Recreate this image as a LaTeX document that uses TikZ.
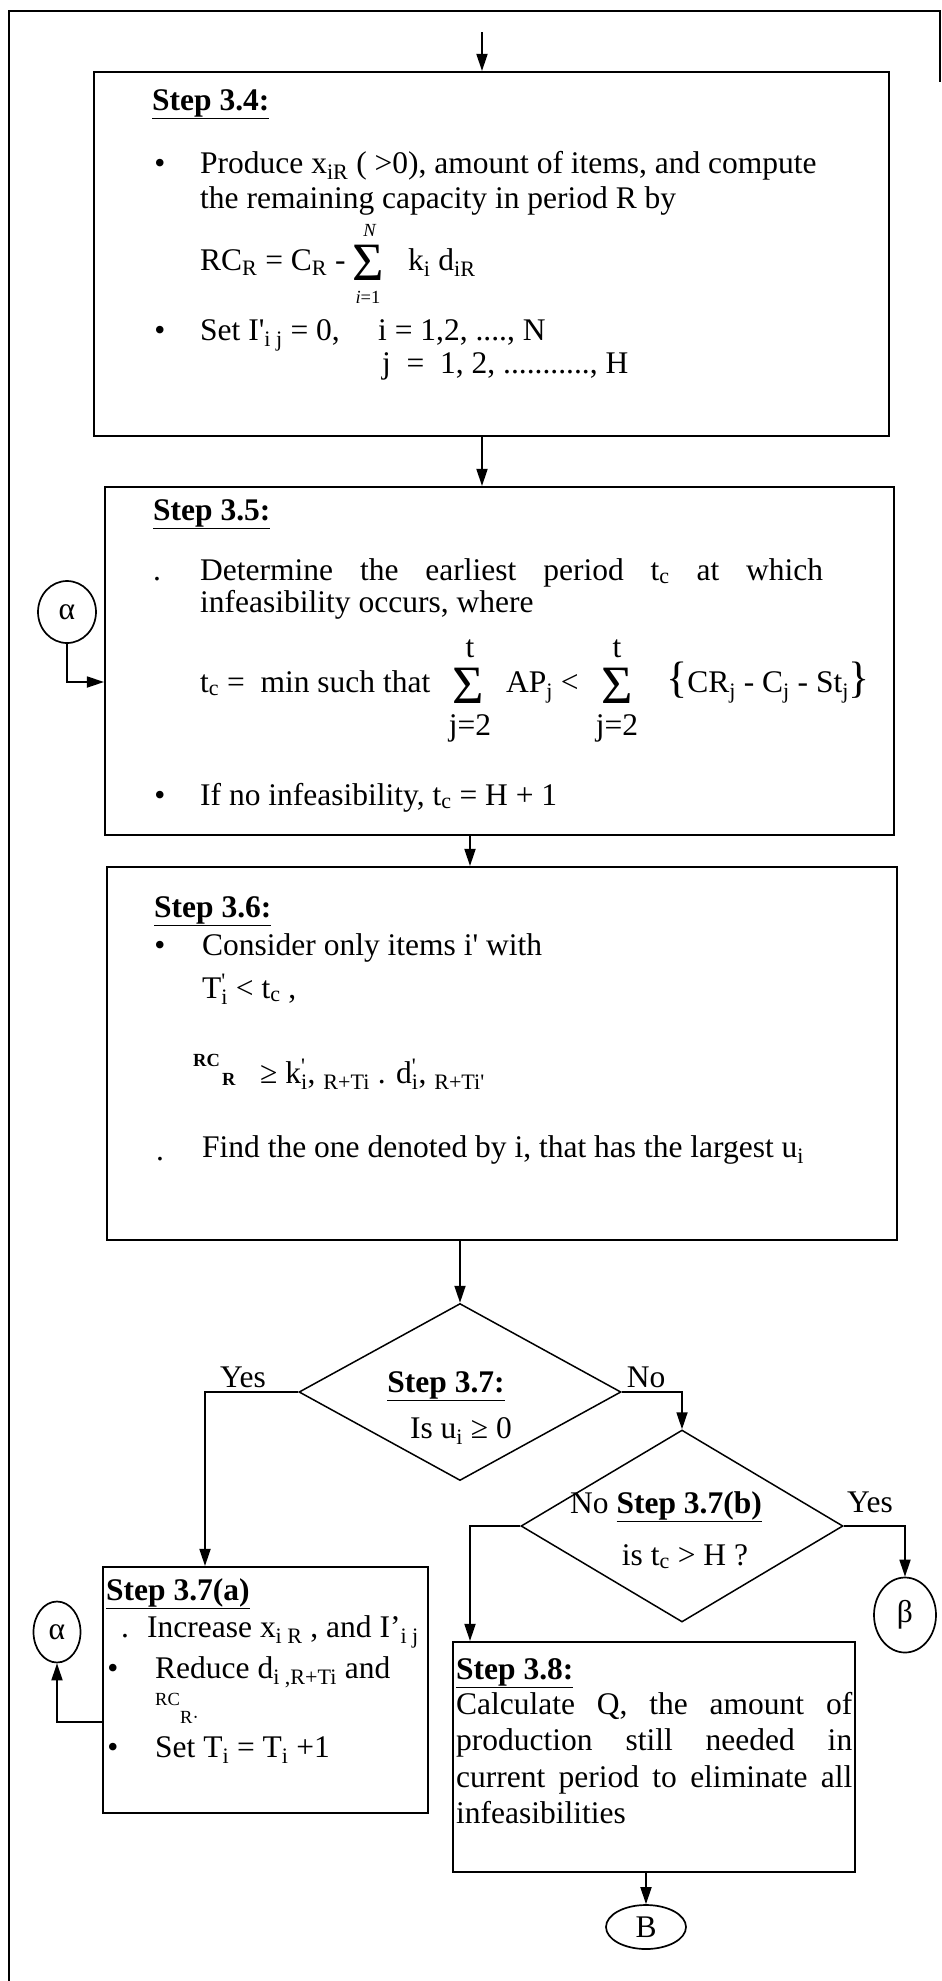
\documentclass[tikz,border=0pt]{standalone}
\usepackage{fontspec}
\setmainfont{Liberation Serif}
\usetikzlibrary{arrows.meta,shapes.geometric}
\newcommand{\tsb}[1]{\textsubscript{#1}}
\newcommand{\tsp}[1]{\textsuperscript{#1}}
\newcommand{\stp}[1]{\underline{\textbf{#1}}}
\newcommand{\sq}{\textquotesingle}
\tikzset{
  box/.style={draw, line width=2.1pt, inner sep=0pt, rectangle},
  dia/.style={draw, line width=1.5pt, diamond, inner sep=0pt},
  conn/.style={draw, ellipse, line width=1.7pt, inner sep=0pt, font=\fontsize{31.5}{36}\selectfont},
  arr/.style={line width=1.8pt, -{Triangle[length=17pt,width=11pt]}},
  ln/.style={line width=1.8pt},
  txt/.style={anchor=base west, inner sep=0pt, font=\fontsize{31.5}{36}\selectfont},
  ctxt/.style={txt, anchor=base},
  sml/.style={anchor=base west, inner sep=0pt, font=\fontsize{18.5}{21}\selectfont},
  sig/.style={anchor=base, inner sep=0pt, text height=36pt, text depth=0pt, font=\fontsize{54}{54}\selectfont},
}
\begin{document}
\begin{tikzpicture}[x=1pt,y=-1pt]
\useasboundingbox (0,0) rectangle (942,1981);
% outer frame
\coordinate (fbl) at (9,1981);
\coordinate (ftl) at (9,11);
\coordinate (ftr) at (940,11);
\coordinate (fbr) at (940,82);
\draw[ln] (fbl) -- (ftl) -- (ftr) -- (fbr);

% boxes
\node[box, minimum width=795pt, minimum height=364pt] (s34) at (491.5,254) {};
\node[box, minimum width=789pt, minimum height=348pt] (s35) at (499.5,661) {};
\node[box, minimum width=790pt, minimum height=373pt] (s36) at (502,1053.5) {};
\node[box, minimum width=325pt, minimum height=246pt] (s37a) at (265.5,1690) {};
\node[box, minimum width=402pt, minimum height=230pt] (s38) at (654,1757) {};
\node[dia, minimum width=322pt, minimum height=177pt] (d37) at (460,1392) {};
\node[dia, minimum width=322pt, minimum height=192pt] (d37b) at (682,1526) {};
\node[conn, minimum width=58pt, minimum height=62pt] (al1) at (67,612) {α};
\node[conn, minimum width=47pt, minimum height=61pt] (al2) at (57,1632) {α};
\node[conn, minimum width=62pt, minimum height=75pt] (be) at (905,1615) {β};
\node[conn, minimum width=80pt, minimum height=44pt] (bb) at (646,1927) {B};

% connectors
\coordinate (in) at (482,32);
\draw[arr] (in) -- (in |- s34.north);
\draw[arr] (s34.south -| in) -- (s35.north -| in);
\coordinate (c36) at (470,0);
\draw[arr] (s35.south -| c36) -- (s36.north -| c36);
\draw[arr] (s36.south -| d37.north) -- (d37.north);
\coordinate (yx) at (205,1392);
\draw[arr] (d37.west) -- (yx) -- (yx |- s37a.north);
\draw[arr] (d37.east) -| (d37b.north);
\coordinate (nx) at (470,1526);
\draw[arr] (d37b.west) -- (nx) -- (nx |- s38.north);
\draw[arr] (d37b.east) -| (be.north);
\draw[arr] (s38.south -| bb.north) -- (bb.north);
\draw[arr] ([yshift=-32pt]s37a.west) -| (al2.south);
\draw[arr] (al1.south) |- ([yshift=-21pt]s35.west);

% Step 3.4
\node[txt] (h34) at (152,110) {\stp{Step 3.4:}};
\node[ctxt] (b341) at (160,173) {•};
\node[txt] (t341) at (200,173) {Produce x\tsb{iR} ( >0), amount of items, and compute};
\node[txt] (t342) at (200,208) {the remaining capacity in period R by};
\node[txt] (t343) at (200,270) {RC\tsb{R} = C\tsb{R} -};
\node[sig] (s341) at (368,280) {Σ};
\node[sml, anchor=base] (s341a) at (370,236) {\textit{N}};
\node[sml, anchor=base] (s341b) at (368,303) {\textit{i}=1};
\node[txt] (t344) at (408,270) {k\tsb{i} d\tsb{iR}};
\node[ctxt] (b342) at (160,340) {•};
\node[txt] (t345) at (200,340) {Set I\sq\tsb{i j} = 0,};
\node[txt] (t346) at (378,340) {i = 1,2, ...., N};
\node[txt] (t347) at (382,373) {j \ = \ 1, 2, ..........., H};

% Step 3.5
\node[txt] (h35) at (153,520) {\stp{Step 3.5:}};
\node[ctxt] (b351) at (157,580) {.};
\node[txt] (t351) at (200,580) {\makebox[623pt][s]{Determine the earliest period t\tsb{c} at which}};
\node[txt] (t352) at (200,612) {infeasibility occurs, where};
\node[txt] (t353) at (200,692) {t\tsb{c} = \ min such that};
\node[sig] (s351) at (468,703) {Σ};
\node[ctxt] (s351a) at (470,657) {t};
\node[ctxt] (s351b) at (470,735) {j=2};
\node[txt] (t354) at (506,692) {AP\tsb{j} <};
\node[sig] (s352) at (617,703) {Σ};
\node[ctxt] (s352a) at (617,657) {t};
\node[ctxt] (s352b) at (617,735) {j=2};
\node[txt] (t355) at (666,692) {{\fontsize{44}{44}\selectfont\{}CR\tsb{j} - C\tsb{j} - St\tsb{j}{\fontsize{44}{44}\selectfont\}}};
\node[ctxt] (b352) at (160,805) {•};
\node[txt] (t356) at (200,805) {If no infeasibility, t\tsb{c} = H + 1};

% Step 3.6
\node[txt] (h36) at (154,917) {\stp{Step 3.6:}};
\node[ctxt] (b361) at (160,955) {•};
\node[txt] (t361) at (202,955) {Consider only items i\sq{} with};
\node[txt] (t362) at (202,998) {T\rlap{\tsp{\sq}}\tsb{i} < t\tsb{c} ,};
\node[sml] (t363) at (193,1066) {\textbf{RC}};
\node[sml] (t364) at (222,1085) {\textbf{R}};
\node[txt] (t365) at (260,1083) {≥ k\rlap{\tsp{\sq}}\tsb{i}, \tsb{R+Ti} . d\rlap{\tsp{\sq}}\tsb{i}, \tsb{R+Ti\sq}};
\node[ctxt] (b362) at (160,1160) {.};
\node[txt] (t366) at (202,1157) {Find the one denoted by i, that has the largest u\tsb{i}};

% Step 3.7
\node[ctxt] (h37) at (446,1392) {\stp{Step 3.7:}};
\node[ctxt] (t371) at (461,1438) {Is u\tsb{i} ≥ 0};
\node[ctxt] (ly1) at (243,1387) {Yes};
\node[ctxt] (ln1) at (646,1387) {No};

% Step 3.7(b)
\node[ctxt] (h37b) at (666,1513) {No \stp{Step 3.7(b)}};
\node[ctxt] (t37b) at (685,1565) {is t\tsb{c} > H ?};
\node[ctxt] (ly2) at (870,1512) {Yes};

% Step 3.7(a)
\node[txt] (h37a) at (106,1600) {\stp{Step 3.7(a)}};
\node[ctxt] (b371) at (125,1637) {.};
\node[txt] (t371a) at (147,1637) {Increase x\tsb{i R} , and I’\tsb{i j}};
\node[ctxt] (b372) at (113,1678) {•};
\node[txt] (t372a) at (155,1678) {Reduce d\tsb{i ,R+Ti} and};
\node[sml] (t373a) at (155,1705) {RC};
\node[sml] (t374a) at (180,1723) {R·};
\node[ctxt] (b373) at (113,1757) {•};
\node[txt] (t375a) at (155,1757) {Set T\tsb{i} = T\tsb{i} +1};

% Step 3.8
\node[txt] (h38) at (456,1679) {\stp{Step 3.8:}};
\node[txt] (t381) at (456,1714) {\makebox[396pt][s]{Calculate Q, the amount of}};
\node[txt] (t382) at (456,1750) {\makebox[396pt][s]{production still needed in}};
\node[txt] (t383) at (456,1787) {\makebox[396pt][s]{current period to eliminate all}};
\node[txt] (t384) at (456,1823) {infeasibilities};
\end{tikzpicture}
\end{document}
